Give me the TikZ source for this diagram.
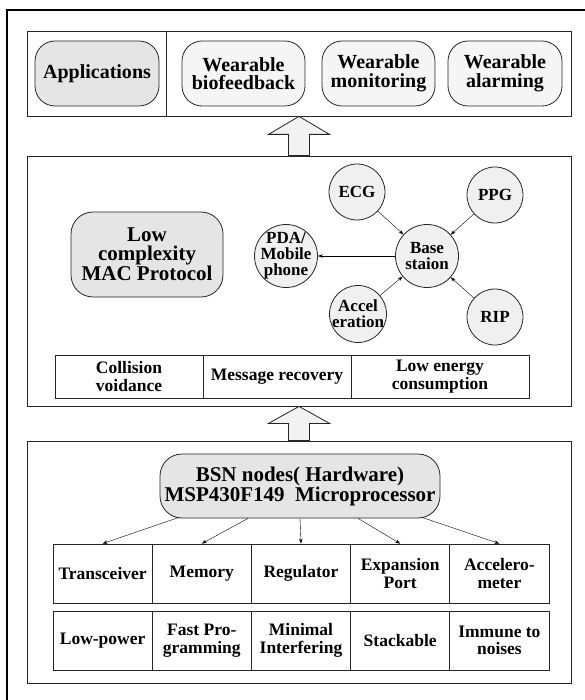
\documentclass[tikz,border=0pt]{standalone}
\usepackage{fontspec}
\setmainfont{Liberation Serif}
\usetikzlibrary{arrows.meta,calc}

\begin{document}
\begin{tikzpicture}[x=1pt,y=-1pt]
\tikzset{
	frame/.style={draw=black!85, line width=0.8pt, inner sep=0pt},
	r/.style={draw=black!85, line width=0.8pt, rounded corners=20pt, fill=black!4, align=center, inner sep=0pt, font=\fontsize{20}{18.5}\selectfont\bfseries},
	rd/.style={r, fill=black!10},
	c/.style={circle, draw=black!85, line width=0.8pt, fill=black!6, align=center, inner sep=0pt, font=\fontsize{17}{16}\selectfont\bfseries},
	cell/.style={draw=black!85, line width=0.8pt, align=center, inner sep=0pt, font=\fontsize{17.5}{17.5}\selectfont\bfseries},
	fat/.style={draw=black!85, line width=0.8pt, fill=black!5},
	>={Stealth[length=5pt,width=3.5pt]}
}

\useasboundingbox (0,0) rectangle (585,700);

% outer frame
\draw[line width=1.6pt] (7,700) -- (7,10) -- (585,10);

% applications
\node[frame, minimum width=544, minimum height=85] (top) at (299,73.5) {};
\draw[black!85, line width=0.8pt] (166,31) -- (166,116);
\node[rd, minimum width=124, minimum height=65] (app) at (97,73.5) {Applications};
\node[r, minimum width=123, minimum height=65] (bio) at (243.5,73.5) {Wearable\\biofeedback};
\node[r, minimum width=113, minimum height=65] (mon) at (378.5,73.5) {Wearable\\monitoring};
\node[r, minimum width=114, minimum height=65] (alm) at (505,73.5) {Wearable\\alarming};

% MAC
\node[frame, minimum width=544, minimum height=250] (mid) at (299,281) {};
\node[rd, rounded corners=22pt, minimum width=152, minimum height=85, font=\fontsize{21}{19}\selectfont\bfseries] (mac) at (147,254.5) {Low\\complexity\\MAC Protocol};

\node[c, minimum size=63, inner sep=-4pt] (pda) at (286,256) {PDA/\\Mobile\\phone};
\node[c, minimum size=56] (ecg) at (357,192) {ECG};
\node[c, minimum size=56] (ppg) at (495,195) {PPG};
\node[c, minimum size=63] (base) at (427,256) {Base\\staion};
\node[c, minimum size=57, inner sep=-6pt] (acc) at (358,314) {Accel\\eration};
\node[c, minimum size=56] (rip) at (495,317) {RIP};

\draw[->] (ecg) -- (base);
\draw[->] (ppg) -- (base);
\draw[->] (acc) -- (base);
\draw[->] (rip) -- (base);
\draw[->] (base) -- (pda);

\node[cell, minimum width=148, minimum height=43] (m1) at (129,376.5) {Collision\\voidance};
\node[cell, minimum width=148, minimum height=43] (m2) at (277,376.5) {Message recovery};
\node[cell, minimum width=178, minimum height=43] (m3) at (440,376.5) {Low energy\\consumption};

% hardware
\node[frame, minimum width=544, minimum height=242] (bot) at (299,562) {};
\node[rd, rounded corners=22pt, minimum width=280, minimum height=64, font=\fontsize{21}{19}\selectfont\bfseries] (bsn) at (300,486) {BSN nodes( Hardware)\\MSP430F149\ \ Microprocessor};

\node[cell, minimum width=99.2, minimum height=59] (t1) at (102.6,573.5) {Transceiver};
\node[cell, minimum width=99.2, minimum height=59] (t2) at (201.8,573.5) {Memory};
\node[cell, minimum width=99.2, minimum height=59] (t3) at (301,573.5) {Regulator};
\node[cell, minimum width=99.2, minimum height=59] (t4) at (400.2,573.5) {Expansion\\Port};
\node[cell, minimum width=99.2, minimum height=59] (t5) at (499.4,573.5) {Accelero-\\meter};

\node[cell, minimum width=99.2, minimum height=59] (f1) at (102.6,640.5) {Low-power};
\node[cell, minimum width=99.2, minimum height=59] (f2) at (201.8,640.5) {Fast Pro-\\gramming};
\node[cell, minimum width=99.2, minimum height=59] (f3) at (301,640.5) {Minimal\\Interfering};
\node[cell, minimum width=99.2, minimum height=59] (f4) at (400.2,640.5) {Stackable};
\node[cell, minimum width=99.2, minimum height=59] (f5) at (499.4,640.5) {Immune to\\noises};

\draw[->] ($(bsn.south)+(-121,-1)$) -- (t1.north);
\draw[->] ($(bsn.south)+(-52,0)$) -- (t2.north);
\draw[->] (bsn.south) -- (t3.north);
\draw[->] ($(bsn.south)+(58,0)$) -- (t4.north);
\draw[->] ($(bsn.south)+(122,-1)$) -- (t5.north);

% block arrows
\draw[fat] ($(mid.north)+(-10.5,0)$) -- ($(top.south)+(-10.5,18)$) -- ($(top.south)+(-30.5,18)$) -- (top.south)
	-- ($(top.south)+(30.5,18)$) -- ($(top.south)+(10.5,18)$) -- ($(mid.north)+(10.5,0)$) -- cycle;
\draw[fat] ($(bot.north)+(-10.5,0)$) -- ($(mid.south)+(-10.5,17)$) -- ($(mid.south)+(-30.5,17)$) -- (mid.south)
	-- ($(mid.south)+(30.5,17)$) -- ($(mid.south)+(10.5,17)$) -- ($(bot.north)+(10.5,0)$) -- cycle;

\end{tikzpicture}
\end{document}
